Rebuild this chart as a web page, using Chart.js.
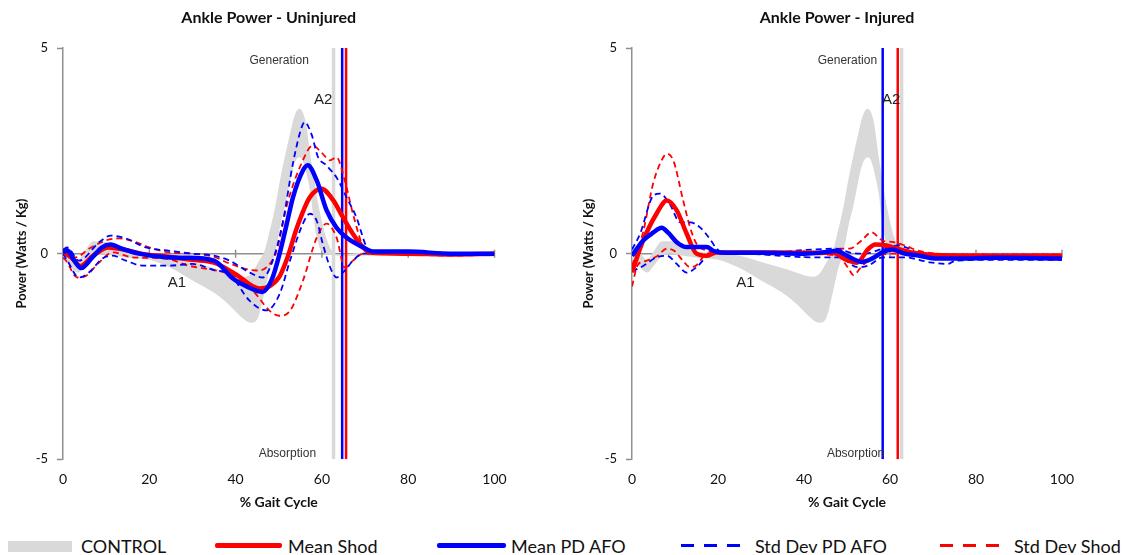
<!DOCTYPE html>
<html><head><meta charset="utf-8">
<script src="https://cdn.jsdelivr.net/npm/chart.js@4.4.1/dist/chart.umd.min.js"></script>
<style>
html,body{margin:0;padding:0;background:#fff;width:1124px;height:555px;overflow:hidden}
.panel{position:absolute;top:0;width:562px;height:520px}
.lg{position:absolute;font-family:Lato,sans-serif;font-size:18px;color:#111;top:533px;height:26px;line-height:26px;white-space:nowrap}
.sw{position:absolute}
</style></head><body>
<div class="panel" style="left:0"><canvas id="c1"></canvas></div>
<div class="panel" style="left:562px"><canvas id="c2"></canvas></div>
<div class="sw" style="left:8px;top:541px;width:64px;height:11px;background:#d9d9d9"></div>
<div class="lg" style="left:81px">CONTROL</div>
<div class="sw" style="left:215px;top:543px;width:67px;height:5px;background:#ff0000;border-radius:2px"></div>
<div class="lg" style="left:288px">Mean Shod</div>
<div class="sw" style="left:437px;top:543px;width:69px;height:5px;background:#0000ff;border-radius:2px"></div>
<div class="lg" style="left:511px">Mean PD AFO</div>
<div class="sw" style="left:681px;top:544px;width:68px;height:3px;background:repeating-linear-gradient(to right,#0000ff 0 13px,transparent 13px 23px)"></div>
<div class="lg" style="left:755px">Std Dev PD AFO</div>
<div class="sw" style="left:940px;top:544px;width:69px;height:3px;background:repeating-linear-gradient(to right,#ff0000 0 13px,transparent 13px 23px)"></div>
<div class="lg" style="left:1014px">Std Dev Shod</div>
<script>
// ---------- DATA ----------
const xTickValues = [0, 20, 40, 60, 80, 100];
const yTickValues = [-5, 0, 5];

// Control band (shared by both panels)
const controlX  = [0,2,3.5,5,7,9,12,15,20,25,30,35,38,42,43.5,45,46.8,48,49.1,50.5,51.4,52.8,53.5,54.7,55.5,56.3,57.4,58,59,60.7,62.3,64,70,80,90,100];
const controlHi = [0.1,0.0,-0.15,0.05,0.3,0.3,0.15,0.05,0.0,-0.05,-0.2,-0.35,-0.45,-0.56,-0.5,-0.25,0.1,0.6,1.1,1.9,2.35,3.0,3.3,3.52,3.45,3.17,2.34,1.95,1.29,0.49,0.07,-0.02,0.02,0.02,0.02,0.02];
const controlLo = [-0.1,-0.35,-0.46,-0.3,-0.05,0.0,-0.05,-0.1,-0.15,-0.35,-0.65,-0.95,-1.2,-1.6,-1.68,-1.6,-0.9,-0.35,0.0,0.75,1.12,1.85,2.15,2.34,2.28,2.0,1.45,0.9,0.3,0.0,-0.02,-0.05,-0.05,-0.05,-0.05,-0.05];

// Uninjured side
const uninjAfoMean = [[0,0.03],[1,0.08],[2.5,-0.15],[4.2,-0.35],[6.8,-0.09],[9,0.15],[11,0.22],[13.7,0.12],[17.7,0.0],[24,-0.09],[28.5,-0.1],[35,-0.17],[39.3,-0.6],[43,-0.82],[46.2,-0.93],[48.5,-0.6],[50.2,0.0],[51.8,0.7],[53.3,1.37],[55.6,2.02],[56.7,2.15],[58.8,1.78],[61.1,1.05],[63.4,0.63],[65.7,0.39],[69.6,0.15],[72,0.05],[80,0.05],[90,0.0],[100,0.0]];
const uninjShodMean = [[0,0.05],[2,-0.1],[4,-0.3],[7,-0.05],[10.5,0.15],[14,0.1],[18,0.0],[24,-0.07],[30,-0.15],[35,-0.22],[40,-0.5],[45.6,-0.85],[48,-0.78],[50.2,-0.55],[52,-0.1],[54.2,0.63],[57.2,1.37],[59.9,1.58],[62.6,1.3],[64.9,0.88],[67.2,0.48],[69.6,0.15],[71,0.03],[80,0.0],[90,-0.02],[100,0.0]];
const uninjAfoSdHi = [[0,0.1],[1,0.15],[3.7,-0.17],[8.4,0.28],[11.1,0.44],[14.6,0.37],[19.2,0.15],[24.7,0.07],[30,0.0],[35,-0.05],[38.6,-0.17],[43.3,-0.46],[46.3,-0.58],[48.6,-0.17],[51,0.8],[53.3,2.2],[55.3,3.07],[56,3.2],[57.6,2.9],[59.1,2.35],[61,2.15],[63.4,1.85],[65.7,1.37],[68,0.88],[70.4,0.15],[71.9,0.03],[80,0.05],[90,0.02],[100,0.02]];
const uninjAfoSdLo = [[0,0.0],[1,-0.17],[3.7,-0.58],[6,-0.46],[9.1,-0.12],[11.4,-0.05],[14.6,-0.17],[18.4,-0.29],[24.7,-0.29],[30,-0.25],[35,-0.4],[38.6,-0.5],[43.3,-1.15],[47.2,-1.38],[50.2,-0.98],[52.6,-0.17],[55.6,0.73],[57.2,0.97],[58.8,0.8],[60.2,0.24],[61.9,-0.33],[63.4,-0.58],[65.3,-0.41],[67.2,-0.17],[69.6,0.0],[80,0.0],[90,-0.03],[100,-0.02]];
const uninjShodSdHi = [[0,0.07],[3,-0.09],[6,0.12],[9.9,0.32],[13,0.37],[16.9,0.28],[20,0.15],[24.7,0.03],[30,0.0],[35,-0.08],[38.6,-0.24],[44.9,-0.41],[47.2,-0.33],[49.5,0.07],[52,1.22],[55.3,2.2],[57.9,2.63],[59.9,2.46],[61.9,2.27],[63.4,2.34],[65.3,1.78],[67.2,0.97],[69.6,0.15],[71,0.03],[80,0.02],[90,0.0],[100,0.02]];
const uninjShodSdLo = [[0,-0.1],[0.7,-0.17],[3.3,-0.58],[5.3,-0.54],[8.4,-0.21],[11.5,0.03],[16.1,-0.09],[23.9,-0.12],[29,-0.29],[35,-0.4],[38.6,-0.5],[44,-0.9],[47.9,-1.39],[50.2,-1.51],[52.6,-1.39],[55.6,-0.66],[58.8,0.39],[61.1,0.73],[63.4,0.39],[65.3,-0.34],[67.2,-0.17],[69.6,0.0],[80,-0.02],[90,-0.05],[100,-0.02]];
const uninjToeOff = [62.7, 64.7, 65.6]; // control, PD AFO, shod

// Injured side
const injShodMean = [[0,-0.45],[2.6,0.32],[5.7,0.97],[8.1,1.29],[10.4,1.05],[12.7,0.49],[15,0.0],[17.4,-0.05],[19.7,0.03],[30,0.03],[40,0.02],[46,0.02],[47.5,0.0],[49.8,-0.15],[52.3,-0.22],[55,0.12],[56.6,0.22],[59.2,0.2],[61.7,0.12],[65,0.03],[70,-0.03],[80,-0.05],[90,-0.05],[100,-0.05]];
const injAfoMean = [[0,-0.05],[2.6,0.32],[4.9,0.51],[6.9,0.63],[8.4,0.51],[10.4,0.28],[12.7,0.16],[15,0.16],[17.4,0.16],[18.9,0.07],[20.5,0.03],[30,0.02],[40,0.0],[46,0.05],[47.5,0.07],[50,-0.05],[53.4,-0.2],[55.8,-0.12],[58.2,0.03],[60.5,0.1],[63.4,0.0],[66.8,-0.05],[71,-0.12],[75.2,-0.12],[85,-0.1],[100,-0.12]];
const injAfoSdHi = [[0,0.1],[1.9,0.49],[4.9,1.4],[6.5,1.46],[8.8,1.2],[11.2,0.76],[13.5,0.76],[15.8,0.64],[18.1,0.36],[19.7,0.12],[21,0.03],[30,0.02],[42,0.1],[47.5,0.12],[50.9,0.02],[54.2,0.0],[58.3,0.12],[61.8,0.2],[64.5,0.12],[66.7,0.0],[75,-0.02],[100,-0.02]];
const injAfoSdLo = [[0,-0.43],[2.6,-0.3],[5.7,-0.09],[8.1,-0.05],[10.4,-0.25],[12.7,-0.46],[15,-0.33],[17.4,-0.07],[19.7,0.02],[30,-0.02],[42,-0.09],[48.3,-0.09],[52.4,-0.33],[55,-0.29],[58.3,-0.09],[63.4,-0.09],[69.3,-0.21],[73.5,-0.25],[75.2,-0.17],[85,-0.15],[100,-0.15]];
const injShodSdHi = [[0,-0.3],[2.6,0.53],[4.9,1.7],[6.9,2.27],[8.1,2.43],[9.6,2.27],[11.9,1.29],[13.5,0.64],[15,0.24],[17.4,0.07],[19.7,0.03],[30,0.03],[45,0.05],[48.3,0.12],[50.5,0.12],[53.4,0.32],[55.7,0.52],[58.2,0.32],[60.8,0.28],[63.4,0.2],[66.7,0.07],[75,-0.02],[100,-0.02]];
const injShodSdLo = [[0,-0.8],[1.3,-0.28],[3.1,-0.18],[5.7,-0.07],[8.1,0.12],[9.8,0.07],[11.9,-0.18],[13.5,-0.33],[15,-0.28],[17.4,0.0],[19.7,0.02],[30,0.0],[45,-0.02],[48.3,-0.09],[50.3,-0.35],[51.5,-0.52],[53.5,-0.3],[56.3,-0.09],[60,0.0],[64,0.0],[70,-0.05],[100,-0.05]];
const injToeOff = [62.7, 58.3, 61.8]; // control, PD AFO, shod

// ---------- STYLE / BUILD ----------
const RED = '#ff0000', BLUE = '#0000ff', GREY = '#d9d9d9', AXIS = '#8f8f8f';
const toPts = a => a.map(p => ({x: p[0], y: p[1]}));
function curve(a, color, w, dash) {
  return {data: toPts(a), borderColor: color, borderWidth: w, borderDash: dash || [], pointRadius: 0,
          fill: false, cubicInterpolationMode: 'monotone', borderCapStyle: 'butt', borderJoinStyle: 'round'};
}
function vline(v, color, w) {
  return {data: [{x: v, y: yTickValues[0]}, {x: v, y: yTickValues[2]}], borderColor: color, borderWidth: w, pointRadius: 0, fill: false};
}
function controlBand() {
  return [
    {data: controlX.map((x, i) => ({x, y: controlHi[i]})), borderWidth: 0, borderColor: GREY, backgroundColor: GREY, pointRadius: 0, fill: '+1', cubicInterpolationMode: 'monotone'},
    {data: controlX.map((x, i) => ({x, y: controlLo[i]})), borderWidth: 0, borderColor: GREY, pointRadius: 0, fill: false, cubicInterpolationMode: 'monotone'}
  ];
}

const decor = {
  id: 'decor',
  beforeDatasetsDraw(chart) {
    const {ctx, scales: {x, y}} = chart;
    const y0 = y.getPixelForValue(0);
    ctx.save();
    ctx.strokeStyle = AXIS; ctx.lineWidth = 1.5;
    ctx.beginPath();
    ctx.moveTo(x.left, y0); ctx.lineTo(x.right, y0);
    xTickValues.forEach(v => { if (v === 0) return; const px = x.getPixelForValue(v); ctx.moveTo(px, y0 - 4); ctx.lineTo(px, y0 + 4); });
    ctx.stroke();
    ctx.restore();
  },
  afterDraw(chart) {
    const o = chart.options.plugins.decor;
    const {ctx, scales: {x, y}} = chart;
    ctx.save();
    ctx.textAlign = 'center'; ctx.textBaseline = 'middle';
    ctx.fillStyle = '#111';
    ctx.font = 'bold 16px Lato, sans-serif';
    ctx.fillText(o.title, (x.left + x.right) / 2 - 10, 18);
    ctx.fillStyle = '#333';
    ctx.font = '12px "Liberation Sans", Arial, sans-serif';
    ctx.fillText('Generation', x.getPixelForValue(50.1), y.getPixelForValue(4.7));
    ctx.fillText('Absorption', x.getPixelForValue(52), y.getPixelForValue(-4.86));
    ctx.fillStyle = '#222';
    ctx.font = '15px "Liberation Sans", Arial, sans-serif';
    ctx.fillText('A2', x.getPixelForValue(60.3), y.getPixelForValue(3.73));
    ctx.fillText('A1', x.getPixelForValue(26.4), y.getPixelForValue(-0.7));
    ctx.restore();
  }
};

function makeChart(id, title, s, toeOff, yWidth, padRight, yTitlePad) {
  const datasets = [
    curve(s.afoMean, BLUE, 4.5),
    curve(s.shodMean, RED, 4.5),
    curve(s.afoHi, BLUE, 1.8, [6, 4]),
    curve(s.afoLo, BLUE, 1.8, [6, 4]),
    curve(s.shodHi, RED, 1.8, [6, 4]),
    curve(s.shodLo, RED, 1.8, [6, 4]),
    vline(toeOff[1], BLUE, 2.5),
    vline(toeOff[2], RED, 2.5),
    vline(toeOff[0], GREY, 3.5),
    ...controlBand()
  ];
  return new Chart(document.getElementById(id), {
    type: 'line',
    data: {datasets},
    plugins: [decor],
    options: {
      responsive: true, maintainAspectRatio: false, animation: false,
      layout: {padding: {top: 48, right: padRight, bottom: 0, left: 0}},
      plugins: {legend: {display: false}, tooltip: {enabled: false}, decor: {title}},
      scales: {
        x: {
          type: 'linear', min: 0, max: 100,
          afterFit: sc => { sc.height = 60.7; },
          afterBuildTicks: sc => { sc.ticks = xTickValues.map(v => ({value: v})); },
          grid: {display: false, drawTicks: false},
          border: {display: false},
          ticks: {padding: 12, color: '#111', font: {family: 'Lato, sans-serif', size: 14}, maxRotation: 0},
          title: {display: true, text: '% Gait Cycle', color: '#111', font: {family: 'Lato, sans-serif', size: 14, weight: 'bold'}, padding: {top: 0, bottom: 9}}
        },
        y: {
          type: 'linear', min: -5, max: 5,
          afterFit: sc => { sc.width = yWidth; },
          afterBuildTicks: sc => { sc.ticks = yTickValues.map(v => ({value: v})); },
          grid: {drawOnChartArea: false, drawTicks: true, tickLength: 6, tickColor: AXIS, tickWidth: 1.5, color: AXIS},
          border: {display: true, color: AXIS, width: 1.5},
          ticks: {padding: 9, color: '#111', font: {family: 'Lato, sans-serif', size: 13}},
          title: {display: true, text: 'Power (Watts / Kg)', color: '#111', font: {family: 'Lato, sans-serif', size: 13, weight: 'bold'}, padding: {top: yTitlePad, bottom: 0}}
        }
      }
    }
  });
}

makeChart('c1', 'Ankle Power - Uninjured', {
  afoMean: uninjAfoMean, shodMean: uninjShodMean, afoHi: uninjAfoSdHi, afoLo: uninjAfoSdLo, shodHi: uninjShodSdHi, shodLo: uninjShodSdLo
}, uninjToeOff, 63, 67.5, 14.5);
makeChart('c2', 'Ankle Power - Injured', {
  afoMean: injAfoMean, shodMean: injShodMean, afoHi: injAfoSdHi, afoLo: injAfoSdLo, shodHi: injShodSdHi, shodLo: injShodSdLo
}, injToeOff, 70, 62, 18.8);
</script>
</body></html>
